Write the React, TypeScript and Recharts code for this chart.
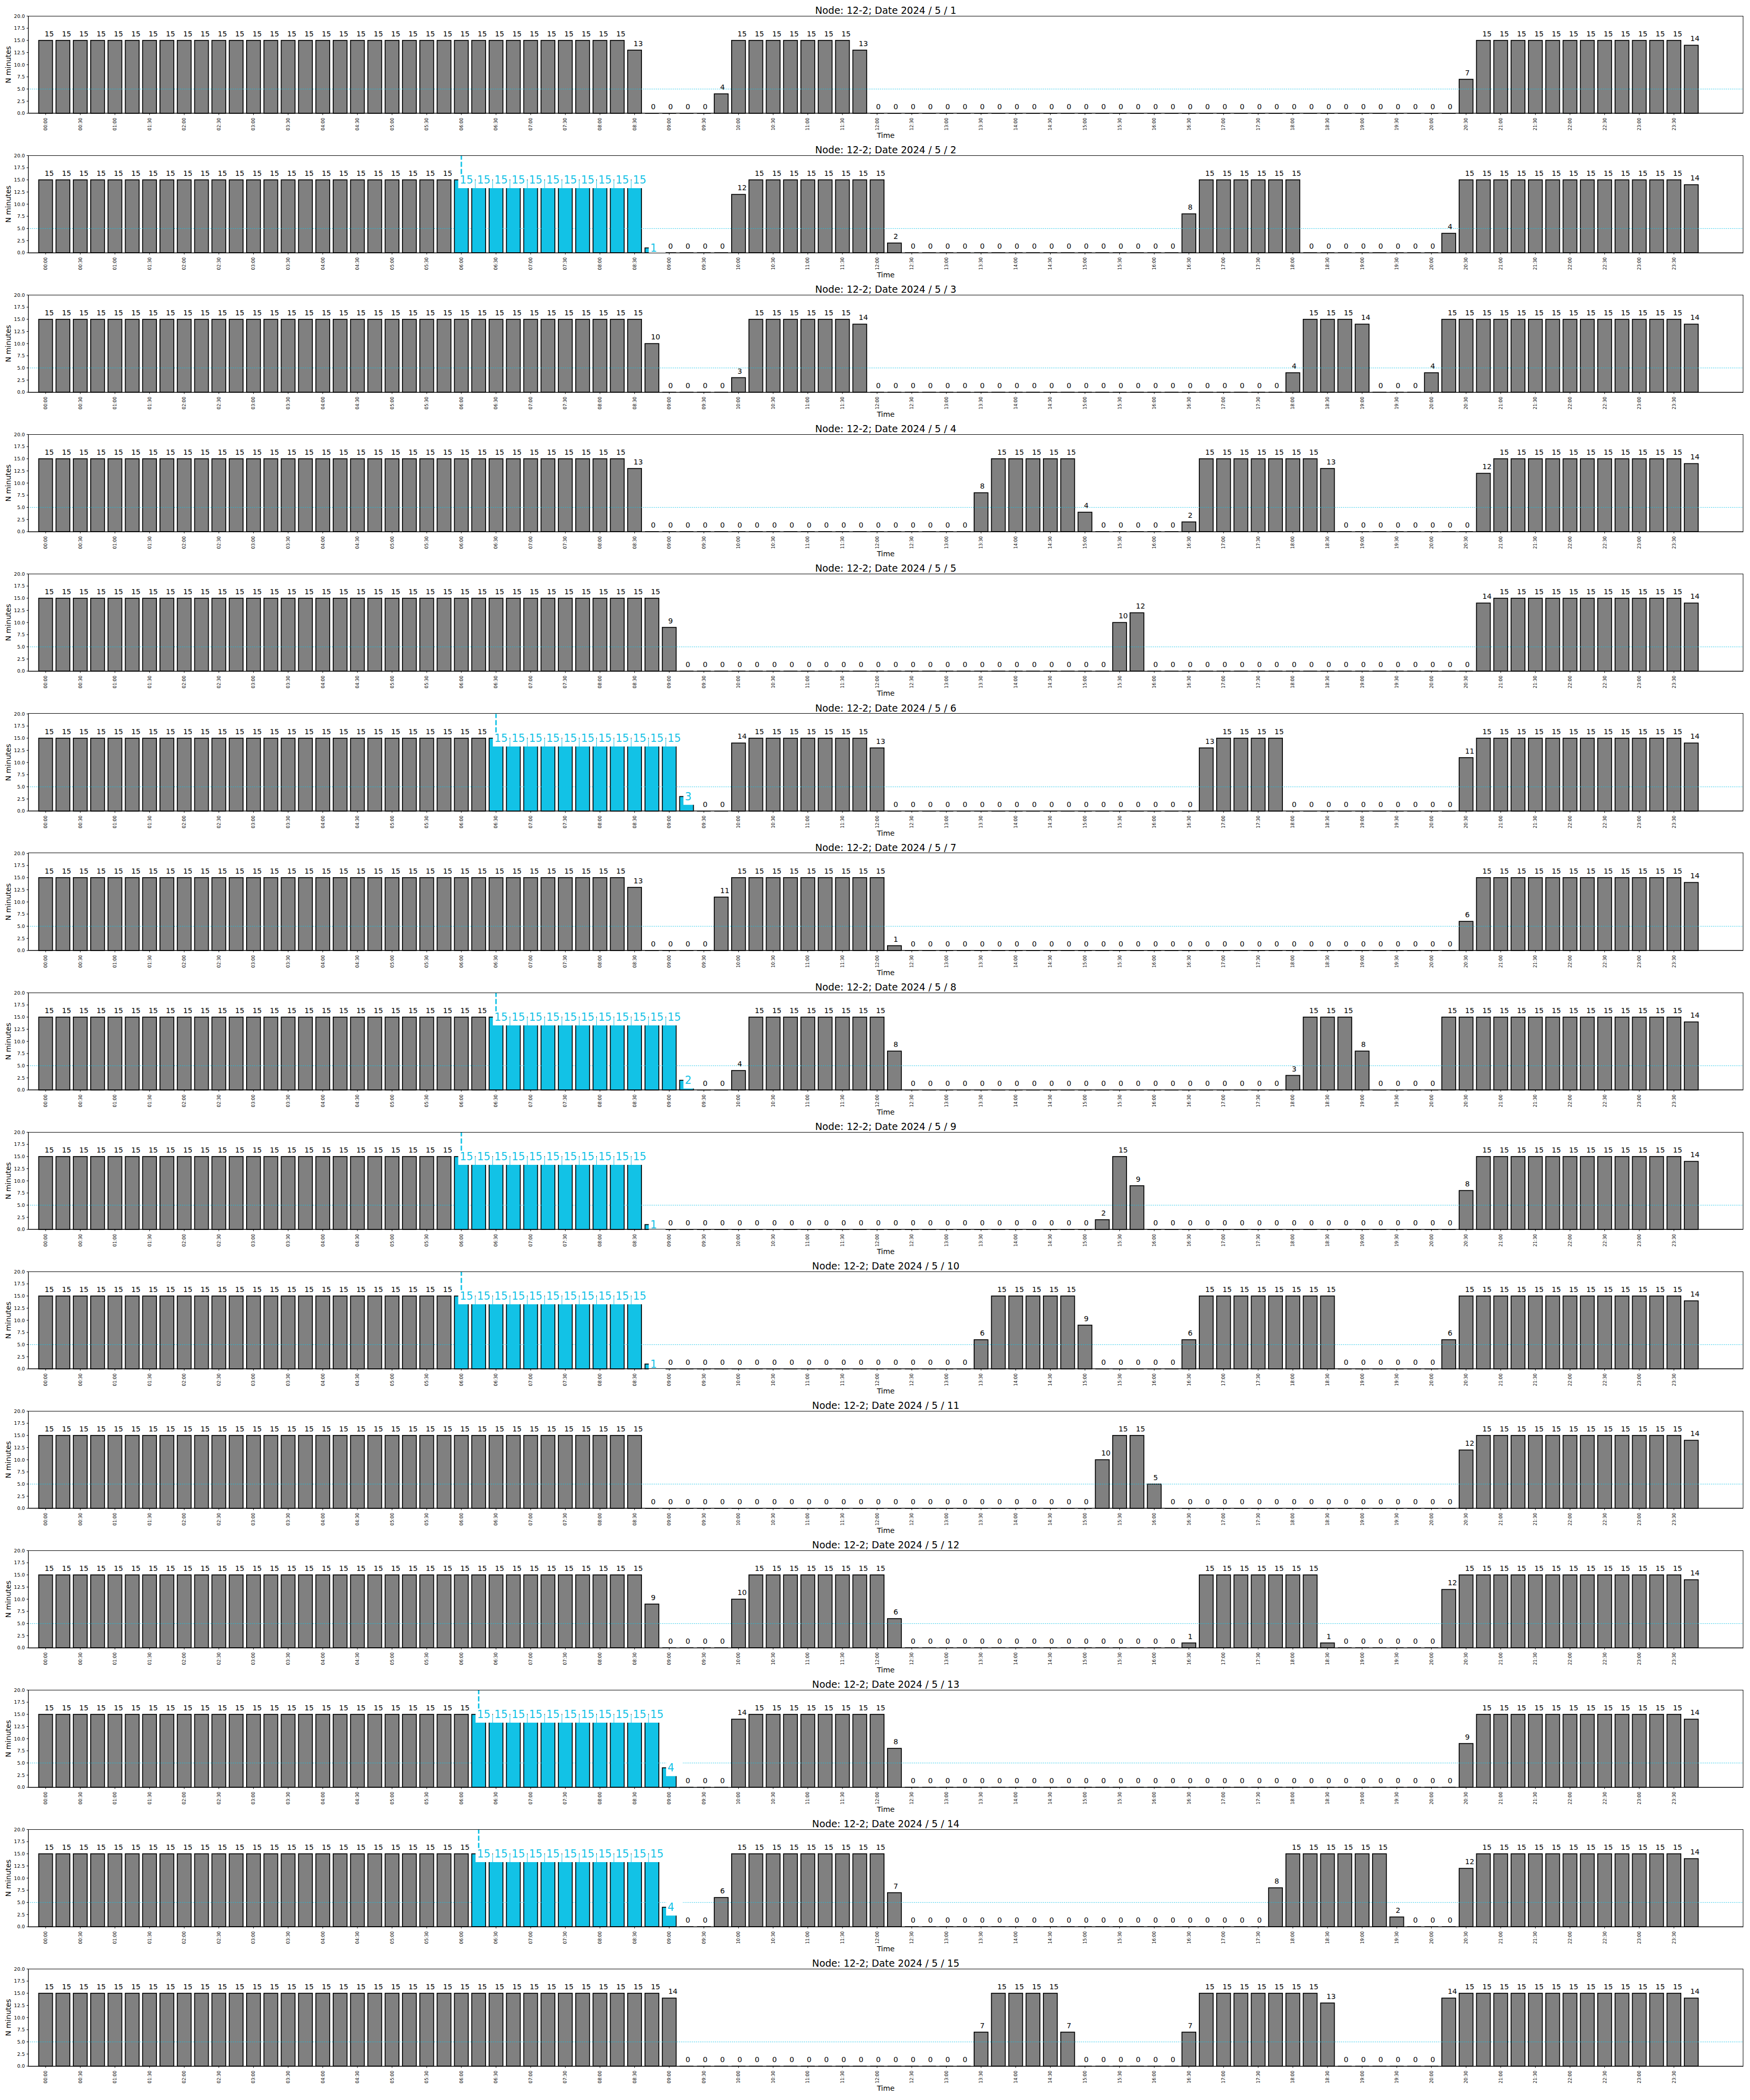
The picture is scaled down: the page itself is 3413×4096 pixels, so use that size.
import React from 'react';
import { BarChart, Bar, XAxis, YAxis, ReferenceLine, LabelList } from 'recharts';

// 15-minute slots of one day
const slots: string[] = [];
for (let h = 0; h < 24; h++) {
  for (const m of ['00', '15', '30', '45']) slots.push(`${String(h).padStart(2, '0')}:${m}`);
}

const dates = [
  '2024 / 5 / 1', '2024 / 5 / 2', '2024 / 5 / 3', '2024 / 5 / 4', '2024 / 5 / 5',
  '2024 / 5 / 6', '2024 / 5 / 7', '2024 / 5 / 8', '2024 / 5 / 9', '2024 / 5 / 10',
  '2024 / 5 / 11', '2024 / 5 / 12', '2024 / 5 / 13', '2024 / 5 / 14', '2024 / 5 / 15',
];

// N minutes per slot; each line = 6 hours (00-06, 06-12, 12-18, 18-24)
const may01 = [
  15, 15, 15, 15, 15, 15, 15, 15, 15, 15, 15, 15, 15, 15, 15, 15, 15, 15, 15, 15, 15, 15, 15, 15,
  15, 15, 15, 15, 15, 15, 15, 15, 15, 15, 13, 0, 0, 0, 0, 4, 15, 15, 15, 15, 15, 15, 15, 13,
  0, 0, 0, 0, 0, 0, 0, 0, 0, 0, 0, 0, 0, 0, 0, 0, 0, 0, 0, 0, 0, 0, 0, 0,
  0, 0, 0, 0, 0, 0, 0, 0, 0, 0, 7, 15, 15, 15, 15, 15, 15, 15, 15, 15, 15, 15, 15, 14,
];
const may02 = [
  15, 15, 15, 15, 15, 15, 15, 15, 15, 15, 15, 15, 15, 15, 15, 15, 15, 15, 15, 15, 15, 15, 15, 15,
  15, 15, 15, 15, 15, 15, 15, 15, 15, 15, 15, 1, 0, 0, 0, 0, 12, 15, 15, 15, 15, 15, 15, 15,
  15, 2, 0, 0, 0, 0, 0, 0, 0, 0, 0, 0, 0, 0, 0, 0, 0, 0, 8, 15, 15, 15, 15, 15,
  15, 0, 0, 0, 0, 0, 0, 0, 0, 4, 15, 15, 15, 15, 15, 15, 15, 15, 15, 15, 15, 15, 15, 14,
];
const may03 = [
  15, 15, 15, 15, 15, 15, 15, 15, 15, 15, 15, 15, 15, 15, 15, 15, 15, 15, 15, 15, 15, 15, 15, 15,
  15, 15, 15, 15, 15, 15, 15, 15, 15, 15, 15, 10, 0, 0, 0, 0, 3, 15, 15, 15, 15, 15, 15, 14,
  0, 0, 0, 0, 0, 0, 0, 0, 0, 0, 0, 0, 0, 0, 0, 0, 0, 0, 0, 0, 0, 0, 0, 0,
  4, 15, 15, 15, 14, 0, 0, 0, 4, 15, 15, 15, 15, 15, 15, 15, 15, 15, 15, 15, 15, 15, 15, 14,
];
const may04 = [
  15, 15, 15, 15, 15, 15, 15, 15, 15, 15, 15, 15, 15, 15, 15, 15, 15, 15, 15, 15, 15, 15, 15, 15,
  15, 15, 15, 15, 15, 15, 15, 15, 15, 15, 13, 0, 0, 0, 0, 0, 0, 0, 0, 0, 0, 0, 0, 0,
  0, 0, 0, 0, 0, 0, 8, 15, 15, 15, 15, 15, 4, 0, 0, 0, 0, 0, 2, 15, 15, 15, 15, 15,
  15, 15, 13, 0, 0, 0, 0, 0, 0, 0, 0, 12, 15, 15, 15, 15, 15, 15, 15, 15, 15, 15, 15, 14,
];
const may05 = [
  15, 15, 15, 15, 15, 15, 15, 15, 15, 15, 15, 15, 15, 15, 15, 15, 15, 15, 15, 15, 15, 15, 15, 15,
  15, 15, 15, 15, 15, 15, 15, 15, 15, 15, 15, 15, 9, 0, 0, 0, 0, 0, 0, 0, 0, 0, 0, 0,
  0, 0, 0, 0, 0, 0, 0, 0, 0, 0, 0, 0, 0, 0, 10, 12, 0, 0, 0, 0, 0, 0, 0, 0,
  0, 0, 0, 0, 0, 0, 0, 0, 0, 0, 0, 14, 15, 15, 15, 15, 15, 15, 15, 15, 15, 15, 15, 14,
];
const may06 = [
  15, 15, 15, 15, 15, 15, 15, 15, 15, 15, 15, 15, 15, 15, 15, 15, 15, 15, 15, 15, 15, 15, 15, 15,
  15, 15, 15, 15, 15, 15, 15, 15, 15, 15, 15, 15, 15, 3, 0, 0, 14, 15, 15, 15, 15, 15, 15, 15,
  13, 0, 0, 0, 0, 0, 0, 0, 0, 0, 0, 0, 0, 0, 0, 0, 0, 0, 0, 13, 15, 15, 15, 15,
  0, 0, 0, 0, 0, 0, 0, 0, 0, 0, 11, 15, 15, 15, 15, 15, 15, 15, 15, 15, 15, 15, 15, 14,
];
const may07 = [
  15, 15, 15, 15, 15, 15, 15, 15, 15, 15, 15, 15, 15, 15, 15, 15, 15, 15, 15, 15, 15, 15, 15, 15,
  15, 15, 15, 15, 15, 15, 15, 15, 15, 15, 13, 0, 0, 0, 0, 11, 15, 15, 15, 15, 15, 15, 15, 15,
  15, 1, 0, 0, 0, 0, 0, 0, 0, 0, 0, 0, 0, 0, 0, 0, 0, 0, 0, 0, 0, 0, 0, 0,
  0, 0, 0, 0, 0, 0, 0, 0, 0, 0, 6, 15, 15, 15, 15, 15, 15, 15, 15, 15, 15, 15, 15, 14,
];
const may08 = [
  15, 15, 15, 15, 15, 15, 15, 15, 15, 15, 15, 15, 15, 15, 15, 15, 15, 15, 15, 15, 15, 15, 15, 15,
  15, 15, 15, 15, 15, 15, 15, 15, 15, 15, 15, 15, 15, 2, 0, 0, 4, 15, 15, 15, 15, 15, 15, 15,
  15, 8, 0, 0, 0, 0, 0, 0, 0, 0, 0, 0, 0, 0, 0, 0, 0, 0, 0, 0, 0, 0, 0, 0,
  3, 15, 15, 15, 8, 0, 0, 0, 0, 15, 15, 15, 15, 15, 15, 15, 15, 15, 15, 15, 15, 15, 15, 14,
];
const may09 = [
  15, 15, 15, 15, 15, 15, 15, 15, 15, 15, 15, 15, 15, 15, 15, 15, 15, 15, 15, 15, 15, 15, 15, 15,
  15, 15, 15, 15, 15, 15, 15, 15, 15, 15, 15, 1, 0, 0, 0, 0, 0, 0, 0, 0, 0, 0, 0, 0,
  0, 0, 0, 0, 0, 0, 0, 0, 0, 0, 0, 0, 0, 2, 15, 9, 0, 0, 0, 0, 0, 0, 0, 0,
  0, 0, 0, 0, 0, 0, 0, 0, 0, 0, 8, 15, 15, 15, 15, 15, 15, 15, 15, 15, 15, 15, 15, 14,
];
const may10 = [
  15, 15, 15, 15, 15, 15, 15, 15, 15, 15, 15, 15, 15, 15, 15, 15, 15, 15, 15, 15, 15, 15, 15, 15,
  15, 15, 15, 15, 15, 15, 15, 15, 15, 15, 15, 1, 0, 0, 0, 0, 0, 0, 0, 0, 0, 0, 0, 0,
  0, 0, 0, 0, 0, 0, 6, 15, 15, 15, 15, 15, 9, 0, 0, 0, 0, 0, 6, 15, 15, 15, 15, 15,
  15, 15, 15, 0, 0, 0, 0, 0, 0, 6, 15, 15, 15, 15, 15, 15, 15, 15, 15, 15, 15, 15, 15, 14,
];
const may11 = [
  15, 15, 15, 15, 15, 15, 15, 15, 15, 15, 15, 15, 15, 15, 15, 15, 15, 15, 15, 15, 15, 15, 15, 15,
  15, 15, 15, 15, 15, 15, 15, 15, 15, 15, 15, 0, 0, 0, 0, 0, 0, 0, 0, 0, 0, 0, 0, 0,
  0, 0, 0, 0, 0, 0, 0, 0, 0, 0, 0, 0, 0, 10, 15, 15, 5, 0, 0, 0, 0, 0, 0, 0,
  0, 0, 0, 0, 0, 0, 0, 0, 0, 0, 12, 15, 15, 15, 15, 15, 15, 15, 15, 15, 15, 15, 15, 14,
];
const may12 = [
  15, 15, 15, 15, 15, 15, 15, 15, 15, 15, 15, 15, 15, 15, 15, 15, 15, 15, 15, 15, 15, 15, 15, 15,
  15, 15, 15, 15, 15, 15, 15, 15, 15, 15, 15, 9, 0, 0, 0, 0, 10, 15, 15, 15, 15, 15, 15, 15,
  15, 6, 0, 0, 0, 0, 0, 0, 0, 0, 0, 0, 0, 0, 0, 0, 0, 0, 1, 15, 15, 15, 15, 15,
  15, 15, 1, 0, 0, 0, 0, 0, 0, 12, 15, 15, 15, 15, 15, 15, 15, 15, 15, 15, 15, 15, 15, 14,
];
const may13 = [
  15, 15, 15, 15, 15, 15, 15, 15, 15, 15, 15, 15, 15, 15, 15, 15, 15, 15, 15, 15, 15, 15, 15, 15,
  15, 15, 15, 15, 15, 15, 15, 15, 15, 15, 15, 15, 4, 0, 0, 0, 14, 15, 15, 15, 15, 15, 15, 15,
  15, 8, 0, 0, 0, 0, 0, 0, 0, 0, 0, 0, 0, 0, 0, 0, 0, 0, 0, 0, 0, 0, 0, 0,
  0, 0, 0, 0, 0, 0, 0, 0, 0, 0, 9, 15, 15, 15, 15, 15, 15, 15, 15, 15, 15, 15, 15, 14,
];
const may14 = [
  15, 15, 15, 15, 15, 15, 15, 15, 15, 15, 15, 15, 15, 15, 15, 15, 15, 15, 15, 15, 15, 15, 15, 15,
  15, 15, 15, 15, 15, 15, 15, 15, 15, 15, 15, 15, 4, 0, 0, 6, 15, 15, 15, 15, 15, 15, 15, 15,
  15, 7, 0, 0, 0, 0, 0, 0, 0, 0, 0, 0, 0, 0, 0, 0, 0, 0, 0, 0, 0, 0, 0, 8,
  15, 15, 15, 15, 15, 15, 2, 0, 0, 0, 12, 15, 15, 15, 15, 15, 15, 15, 15, 15, 15, 15, 15, 14,
];
const may15 = [
  15, 15, 15, 15, 15, 15, 15, 15, 15, 15, 15, 15, 15, 15, 15, 15, 15, 15, 15, 15, 15, 15, 15, 15,
  15, 15, 15, 15, 15, 15, 15, 15, 15, 15, 15, 15, 14, 0, 0, 0, 0, 0, 0, 0, 0, 0, 0, 0,
  0, 0, 0, 0, 0, 0, 7, 15, 15, 15, 15, 7, 0, 0, 0, 0, 0, 0, 7, 15, 15, 15, 15, 15,
  15, 15, 13, 0, 0, 0, 0, 0, 0, 14, 15, 15, 15, 15, 15, 15, 15, 15, 15, 15, 15, 15, 15, 14,
];
const days = [may01, may02, may03, may04, may05, may06, may07, may08, may09, may10, may11, may12, may13, may14, may15];

// highlighted (cyan) run of slots per day, '' = none
const cyanFrom = ['', '06:00', '', '', '', '06:30', '', '06:30', '06:00', '06:00', '', '', '06:15', '06:15', ''];
const cyanTo = ['', '08:45', '', '', '', '09:15', '', '09:15', '08:45', '08:45', '', '', '09:00', '09:00', ''];

const WIDTH = 3413;
const PANEL_STEP = 272.1;
const PANEL_H = 272;
const PLOT_TOP = 31.4;
const PLOT_H = 189.6;
const PLOT_LEFT = 55.2;
const PLOT_RIGHT = 3399.8;
const SLOT = (PLOT_RIGHT - PLOT_LEFT) / 99; // x range runs one slot before 00:00 and three after 23:45

const GRAY = '#808080';
const CYAN = '#12c2e6';
const FONT = '"DejaVu Sans", Verdana, sans-serif';

const TimeTick = (p: any) => (
  <text
    x={p.x}
    y={p.y}
    transform={`rotate(-90 ${p.x} ${p.y})`}
    textAnchor="end"
    dy="0.35em"
    fontSize={8.5}
    fontFamily={FONT}
    fill="#000"
  >
    {p.payload.value}
  </text>
);

const xTitle = (p: any) => {
  const vb = p.viewBox;
  return (
    <text x={vb.x + vb.width / 2} y={vb.y + 48.2} textAnchor="middle" fontSize={14.2} fontFamily={FONT} fill="#000">
      Time
    </text>
  );
};

const yTitle = (p: any) => {
  const vb = p.viewBox;
  const cy = vb.y + vb.height / 2;
  return (
    <text x={21} y={cy} transform={`rotate(-90 21 ${cy})`} textAnchor="middle" fontSize={14.2} fontFamily={FONT} fill="#000">
      N minutes
    </text>
  );
};

function DayChart({ index }: { index: number }) {
  const values = days[index];
  const from = slots.indexOf(cyanFrom[index]);
  const to = slots.indexOf(cyanTo[index]);
  const data = slots.map((t, i) => ({ t, v: values[i], hi: from >= 0 && i >= from && i <= to }));

  const barShape = (p: any) => {
    const hi = p.payload?.hi ?? data[p.index]?.hi;
    if (!p.height) {
      return <line x1={p.x} x2={p.x + p.width} y1={p.y} y2={p.y} stroke="#000" strokeWidth={1.7} />;
    }
    return (
      <rect x={p.x} y={p.y} width={p.width} height={p.height} fill={hi ? CYAN : GRAY} stroke="#000" strokeWidth={1.7} />
    );
  };

  const barLabel = (p: any) => {
    const vb = p.viewBox ?? p;
    const cx = vb.x + vb.width / 2;
    const top = Math.min(vb.y, vb.y + vb.height);
    if (data[p.index]?.hi) {
      return (
        <g>
          <rect x={cx - 6.1} y={top - 11} width={SLOT - 1} height={27.2} fill="#fff" />
          <text x={cx - 3.1} y={top + 7.4} fontSize={20.4} fontFamily={FONT} fill={CYAN}>
            {p.value}
          </text>
        </g>
      );
    }
    return (
      <text x={cx - 2} y={top - 7.8} fontSize={14.2} fontFamily={FONT} fill="#000">
        {p.value}
      </text>
    );
  };

  return (
    <div style={{ position: 'absolute', left: 0, top: index * PANEL_STEP, width: WIDTH, height: PANEL_H }}>
      <div
        style={{
          position: 'absolute',
          left: PLOT_LEFT,
          width: PLOT_RIGHT - PLOT_LEFT,
          top: 9,
          textAlign: 'center',
          fontFamily: FONT,
          fontSize: 18.8,
          lineHeight: '23px',
          whiteSpace: 'nowrap',
          color: '#000',
        }}
      >
        {`Node: 12-2; Date ${dates[index]}`}
      </div>
      <BarChart
        width={WIDTH}
        height={PANEL_H}
        data={data}
        margin={{ top: PLOT_TOP, right: WIDTH - PLOT_RIGHT, bottom: 0, left: 0 }}
        barCategoryGap="10%"
      >
        <XAxis
          dataKey="t"
          interval={1}
          height={PANEL_H - PLOT_TOP - PLOT_H}
          padding={{ left: SLOT * 0.5, right: SLOT * 2.5 }}
          tickSize={3.3}
          tickMargin={5.6}
          tick={TimeTick}
          tickLine={{ stroke: '#000', strokeWidth: 1 }}
          axisLine={{ stroke: '#000', strokeWidth: 1 }}
          label={xTitle}
        />
        <YAxis
          domain={[0, 20]}
          ticks={[0, 2.5, 5, 7.5, 10, 12.5, 15, 17.5, 20]}
          interval={0}
          width={PLOT_LEFT}
          tickFormatter={(v: number) => v.toFixed(1)}
          tick={{ fontSize: 9.5, fill: '#000', fontFamily: FONT }}
          tickSize={3.3}
          tickMargin={3.4}
          tickLine={{ stroke: '#000', strokeWidth: 1 }}
          axisLine={{ stroke: '#000', strokeWidth: 1 }}
          label={yTitle}
        />
        {from >= 0 && (
          <ReferenceLine
            segment={[
              { x: slots[from], y: 16.2 },
              { x: slots[from], y: 20 },
            ]}
            stroke={CYAN}
            strokeWidth={2.8}
            strokeDasharray="10 4"
          />
        )}
        <Bar dataKey="v" shape={barShape} isAnimationActive={false}>
          <LabelList dataKey="v" content={barLabel} />
        </Bar>
        <ReferenceLine y={5} stroke={CYAN} strokeWidth={1.4} strokeDasharray="1.4 2.3" />
      </BarChart>
      {/* axes frame (matplotlib draws all four spines) */}
      <div
        style={{
          position: 'absolute',
          left: PLOT_LEFT - 0.5,
          top: PLOT_TOP - 0.5,
          width: PLOT_RIGHT - PLOT_LEFT + 1,
          height: PLOT_H + 1,
          border: '1px solid #000',
          boxSizing: 'border-box',
          pointerEvents: 'none',
        }}
      />
    </div>
  );
}

export default function App() {
  return (
    <div
      style={{
        position: 'absolute',
        left: 0,
        top: 0,
        width: WIDTH,
        height: 4096,
        background: '#fff',
        fontFamily: FONT,
      }}
    >
      {dates.map((d, i) => (
        <DayChart key={d} index={i} />
      ))}
    </div>
  );
}
